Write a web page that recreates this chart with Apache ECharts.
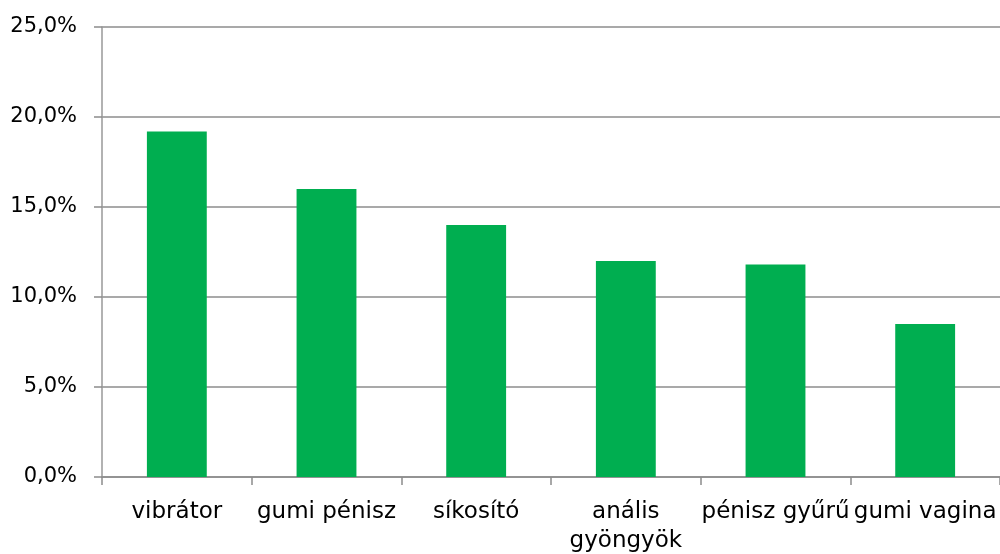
<!DOCTYPE html>
<html>
<head>
<meta charset="utf-8">
<script src="https://cdn.jsdelivr.net/npm/echarts@6/dist/echarts.min.js"></script>
<style>html,body{margin:0;padding:0;background:#fff}#c{width:1000px;height:554px}</style>
</head>
<body>
<div id="c"></div>
<script>
const categories = ["vibrátor", "gumi pénisz", "síkosító", "anális\ngyöngyök", "pénisz gyűrű", "gumi vagina"];
const values = [19.2, 16.0, 14.0, 12.0, 11.8, 8.5];
const yTicks = { min: 0, max: 25, interval: 5 };

const chart = echarts.init(document.getElementById('c'), null, { renderer: 'canvas' });
const font = '"DejaVu Sans", sans-serif';
chart.setOption({
  animation: false,
  backgroundColor: '#ffffff',
  grid: { left: 102, right: 0, top: 27, bottom: 77, containLabel: false, outerBoundsMode: 'none' },
  xAxis: {
    type: 'category',
    data: categories,
    axisLine: { show: true, lineStyle: { color: '#8c8c8c', width: 1.5 } },
    axisTick: { show: true, alignWithLabel: false, length: 8, lineStyle: { color: '#8c8c8c', width: 1.5 } },
    axisLabel: {
      interval: 0, hideOverlap: false, margin: 21, color: '#000', fontFamily: font, fontSize: 23,
      lineHeight: 29
    }
  },
  yAxis: {
    type: 'value',
    min: yTicks.min, max: yTicks.max, interval: yTicks.interval,
    axisLine: { show: true, lineStyle: { color: '#999', width: 1.5 } },
    axisTick: { show: true, length: 8, lineStyle: { color: '#8c8c8c', width: 1.5 } },
    splitLine: { show: true, lineStyle: { color: '#8c8c8c', width: 1.5 } },
    axisLabel: {
      margin: 25, color: '#000', fontFamily: font, fontSize: 21,
      formatter: v => v.toFixed(1).replace('.', ',') + '%'
    }
  },
  series: [{
    type: 'bar',
    data: values,
    barCategoryGap: '60%',
    itemStyle: { color: '#00AE50' }
  }]
});
</script>
</body>
</html>
